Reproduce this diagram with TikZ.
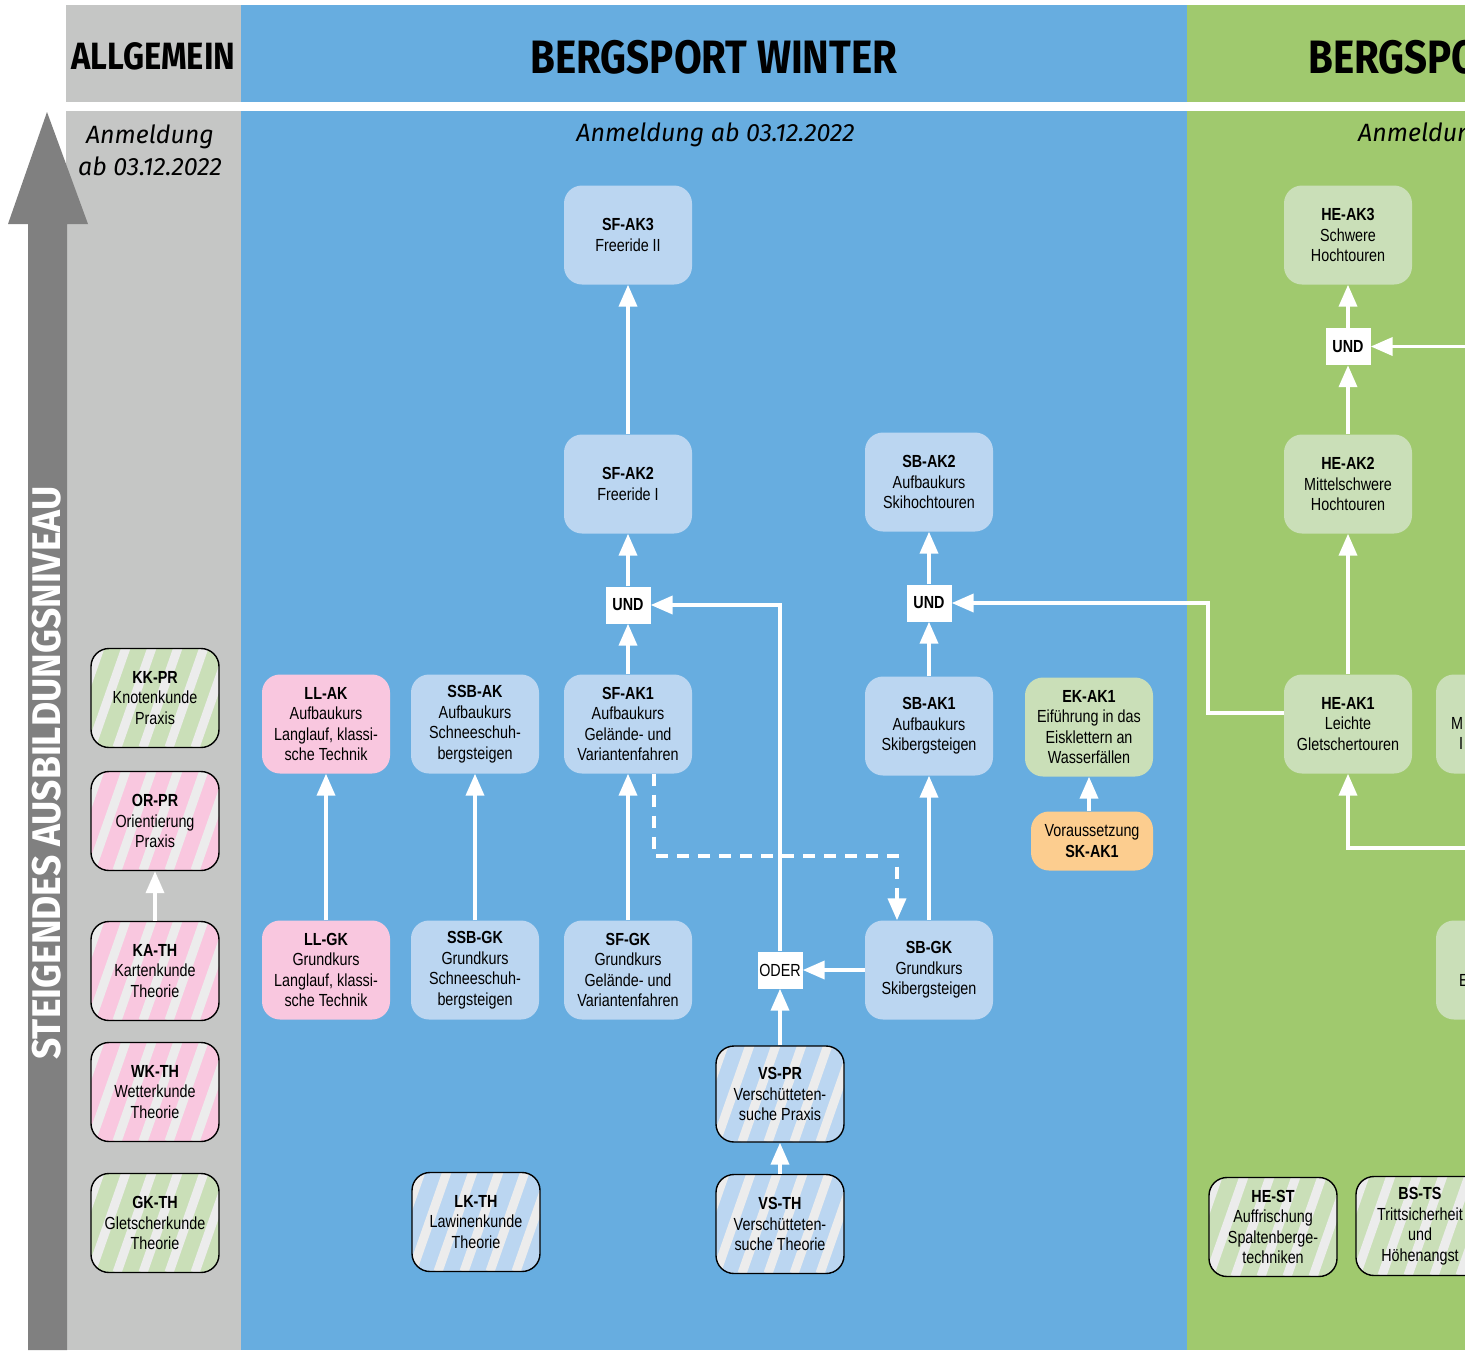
\documentclass[tikz,border=0pt]{standalone}
\usepackage{fontspec}
\setmainfont{Liberation Sans}[FakeStretch=0.82]
\newfontfamily\headfont{Fira Sans}[FakeStretch=0.86]
\newfontfamily\levelfont{Fira Sans}[FakeStretch=0.93]
\newfontfamily\anmfont{Fira Sans}
\usetikzlibrary{arrows.meta}
\definecolor{graycol}{HTML}{C5C6C5}
\definecolor{bluecol}{HTML}{67ADE0}
\definecolor{greencol}{HTML}{A0C96E}
\definecolor{arrowgray}{HTML}{808080}
\definecolor{lblue}{HTML}{BBD6F1}
\definecolor{lpink}{HTML}{F9C7DF}
\definecolor{lgreen}{HTML}{CADFB8}
\definecolor{lorange}{HTML}{FCCD8F}
\definecolor{stripecol}{HTML}{ECECEC}
\newcommand{\nodetext}{\fontsize{17.5}{20.5}\selectfont}
\tikzset{
  box/.style={rounded corners=18pt, minimum width=128pt, minimum height=99pt,
    align=center, inner sep=2pt, font=\nodetext, text=black},
  striped/.style={box, draw=black, line width=1.4pt,
    path picture={\foreach \k in {-4,...,6}{
      \draw[line width=9pt, stripecol] ([xshift=\k*26pt]path picture bounding box.south west) -- ++(42pt,120pt);}}},
  logic/.style={fill=white, minimum width=45pt, minimum height=37pt, inner sep=0pt, font=\nodetext, text=black},
  arr/.style={draw=white, line width=3.8pt, -{Triangle[width=18pt,length=22pt]}},
  dsh/.style={arr, dash pattern=on 12pt off 9pt},
  head/.style={font=\headfont\bfseries\fontsize{46.8}{46.8}\selectfont, text=black, inner sep=0pt},
  anm/.style={font=\anmfont\itshape\fontsize{25}{32}\selectfont, text=black, inner sep=0pt, align=center},
  frag/.style={font=\nodetext, anchor=west, inner sep=0pt, text=black}
}
\begin{document}
\begin{tikzpicture}[x=1pt,y=-1pt]
\useasboundingbox (0,0) rectangle (1465,1350);
\clip (0,0) rectangle (1465,1350);
\fill[white] (0,0) rectangle (1465,1350);
% columns
\fill[graycol] (66,5) rectangle (241,102);
\fill[graycol] (66,111) rectangle (241,1350);
\fill[bluecol] (241,5) rectangle (1187,102);
\fill[bluecol] (241,111) rectangle (1187,1350);
\fill[greencol] (1187,5) rectangle (1465,102);
\fill[greencol] (1187,111) rectangle (1465,1350);
% level arrow
\fill[arrowgray] (47,112) -- (88,224) -- (67,224) -- (67,1350) -- (28,1350) -- (28,224) -- (8,224) -- cycle;
\node[rotate=90, text=white, font=\levelfont\bfseries\fontsize{40}{40}\selectfont, inner sep=0pt] (level) at (47,773) {STEIGENDES AUSBILDUNGSNIVEAU};
% headers
\node[head, font=\headfont\bfseries\fontsize{38}{38}\selectfont] (hallg) at (153.5,56) {ALLGEMEIN};
\node[head] (hwint) at (714,57) {BERGSPORT WINTER};
\node[head, anchor=west] (hsomm) at (1308,57) {BERGSPORT};
\node[anm] (aallg) at (150,150) {Anmeldung\\ab 03.12.2022};
\node[anm] (awint) at (715.5,135) {Anmeldung ab 03.12.2022};
\node[anm, anchor=west] (asomm) at (1358,135) {Anmeldung ab 03.12.2022};
% ALLGEMEIN nodes
\node[striped, fill=lgreen] (kkpr) at (155,698) {\textbf{KK-PR}\\Knotenkunde\\Praxis};
\node[striped, fill=lpink] (orpr) at (155,821) {\textbf{OR-PR}\\Orientierung\\Praxis};
\node[striped, fill=lpink] (kath) at (155,971) {\textbf{KA-TH}\\Kartenkunde\\Theorie};
\node[striped, fill=lpink] (wkth) at (155,1092) {\textbf{WK-TH}\\Wetterkunde\\Theorie};
\node[striped, fill=lgreen] (gkth) at (155,1223) {\textbf{GK-TH}\\Gletscherkunde\\Theorie};
% WINTER nodes
\node[box, fill=lpink] (llak) at (326,724) {\textbf{LL-AK}\\Aufbaukurs\\Langlauf, klassi-\\sche Technik};
\node[box, fill=lpink] (llgk) at (326,970) {\textbf{LL-GK}\\Grundkurs\\Langlauf, klassi-\\sche Technik};
\node[box, fill=lblue] (ssbak) at (475,724) {\textbf{SSB-AK}\\Aufbaukurs\\Schneeschuh-\\bergsteigen};
\node[box, fill=lblue] (ssbgk) at (475,970) {\textbf{SSB-GK}\\Grundkurs\\Schneeschuh-\\bergsteigen};
\node[box, fill=lblue] (sfak3) at (628,235) {\textbf{SF-AK3}\\Freeride II};
\node[box, fill=lblue] (sfak2) at (628,484) {\textbf{SF-AK2}\\Freeride I};
\node[logic, font=\nodetext\bfseries] (und1) at (628,605) {UND};
\node[box, fill=lblue] (sfak1) at (628,724) {\textbf{SF-AK1}\\Aufbaukurs\\Gelände- und\\Variantenfahren};
\node[box, fill=lblue] (sfgk) at (628,970) {\textbf{SF-GK}\\Grundkurs\\Gelände- und\\Variantenfahren};
\node[logic] (oder) at (780,970) {ODER};
\node[box, fill=lblue] (sbak2) at (929,482) {\textbf{SB-AK2}\\Aufbaukurs\\Skihochtouren};
\node[logic, font=\nodetext\bfseries] (und2) at (929,603) {UND};
\node[box, fill=lblue] (sbak1) at (929,726) {\textbf{SB-AK1}\\Aufbaukurs\\Skibergsteigen};
\node[box, fill=lblue] (sbgk) at (929,970) {\textbf{SB-GK}\\Grundkurs\\Skibergsteigen};
\node[box, fill=lgreen] (ekak1) at (1089,727) {\textbf{EK-AK1}\\Eiführung in das\\Eisklettern an\\Wasserfällen};
\node[box, fill=lorange, minimum width=122pt, minimum height=59pt] (skak1) at (1092,841) {Voraussetzung\\\textbf{SK-AK1}};
\node[striped, fill=lblue, minimum height=96pt] (vspr) at (780,1094) {\textbf{VS-PR}\\Verschütteten-\\suche Praxis};
\node[striped, fill=lblue] (vsth) at (780,1224) {\textbf{VS-TH}\\Verschütteten-\\suche Theorie};
\node[striped, fill=lblue] (lkth) at (476,1222) {\textbf{LK-TH}\\Lawinenkunde\\Theorie};
% SOMMER nodes
\node[box, fill=lgreen] (heak3) at (1348,235) {\textbf{HE-AK3}\\Schwere\\Hochtouren};
\node[logic, font=\nodetext\bfseries] (und3) at (1348,346.5) {UND};
\node[box, fill=lgreen] (heak2) at (1348,484) {\textbf{HE-AK2}\\Mittelschwere\\Hochtouren};
\node[box, fill=lgreen] (heak1) at (1348,724) {\textbf{HE-AK1}\\Leichte\\Gletschertouren};
\node[box, fill=lgreen] (rnode1) at (1500,724) {};
\node[frag] (rtext1) at (1451,723) {M};
\node[frag] (rtext1b) at (1459,743) {I};
\node[box, fill=lgreen] (rnode2) at (1500,970) {};
\node[frag] (rtext2) at (1459,980) {E};
\node[striped, fill=lgreen] (hest) at (1273,1227) {\textbf{HE-ST}\\Auffrischung\\Spaltenberge-\\techniken};
\node[striped, fill=lgreen] (bsts) at (1420,1226) {\textbf{BS-TS}\\Trittsicherheit\\und\\Höhenangst};
\coordinate (r1) at (1470,346.5);
\coordinate (r2) at (1470,848);
% connectors
\draw[arr] (kath) -- (orpr);
\draw[arr] (llgk) -- (llak);
\draw[arr] (ssbgk) -- (ssbak);
\draw[arr] (sfak2) -- (sfak3);
\draw[arr] (und1) -- (sfak2);
\draw[arr] (sfak1) -- (und1);
\draw[arr] (sfgk) -- (sfak1);
\draw[arr] (oder) |- (und1);
\draw[arr] (sbgk) -- (oder);
\draw[arr] (vspr) -- (oder);
\draw[arr] (vsth) -- (vspr);
\draw[dsh] ([xshift=26pt]sfak1.south) -- ++(0,82) -| ([xshift=-32pt]sbgk.north);
\draw[arr] (sbgk) -- (sbak1);
\draw[arr] (sbak1) -- (und2);
\draw[arr] (und2) -- (sbak2);
\draw[arr] (skak1.north -| ekak1.south) -- (ekak1.south);
\draw[arr] ([yshift=11pt]heak1.west) -- ++(-76,0) |- (und2);
\draw[arr] (heak1) -- (heak2);
\draw[arr] (heak2) -- (und3);
\draw[arr] (und3) -- (heak3);
\draw[arr] (r1) -- (und3);
\draw[arr] (r2) -| (heak1);
\end{tikzpicture}
\end{document}
